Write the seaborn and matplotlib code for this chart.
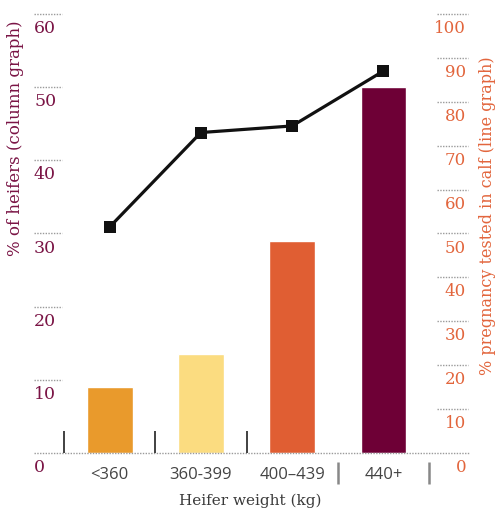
import numpy as np
import matplotlib
matplotlib.use("Agg")
import matplotlib.pyplot as plt
import matplotlib.transforms as mtransforms
import seaborn as sns

# Data
weight_classes = ["<360", "360-399", "400–439", "440+"]
heifer_share = [9, 13.5, 29, 50]            # % of heifers (columns)
pregnancy_rate = [51.5, 73, 74.5, 87]       # % pregnancy tested in calf (line)
left_ticks = [0, 10, 20, 30, 40, 50, 60]
right_ticks = [0, 10, 20, 30, 40, 50, 60, 70, 80, 90, 100]

bar_colors = ["#E99A2C", "#FBDC80", "#E05E33", "#6E0036"]
maroon = "#7A1445"
orange = "#E2653C"
dot_grey = "#9A9A9A"

sns.set_style("white")
plt.rcParams["font.family"] = ["DejaVu Serif"]

W, H = 496, 511
fig = plt.figure(figsize=(W / 100, H / 100), dpi=100)
ax = fig.add_axes([34 / W, 58 / H, 436 / W, 439 / H])

sns.barplot(x=weight_classes, y=heifer_share, hue=weight_classes,
            palette=bar_colors, saturation=1, width=0.5, legend=False, ax=ax)

ax2 = ax.twinx()
sns.lineplot(x=np.arange(len(pregnancy_rate)), y=pregnancy_rate, ax=ax2,
             color="#111111", lw=2.3, marker="s", markersize=8,
             markeredgewidth=0)

ax.set_xlim(-0.83, 3.95)
ax.set_ylim(0, 60)
ax2.set_ylim(0, 100)

for a in (ax, ax2):
    for s in a.spines.values():
        s.set_visible(False)
    a.set_xticks([])
    a.set_yticks([])
    a.set_xlabel("")
    a.set_ylabel("")
    a.grid(False)
    a.patch.set_alpha(0)

dot = (0, (1, 1))
lt = mtransforms.blended_transform_factory(ax.transAxes, ax.transData)
rt = mtransforms.blended_transform_factory(ax2.transAxes, ax2.transData)

# left axis: short dotted ticks with labels just below
for v in left_ticks:
    if v > 0:
        ax.plot([0, 0.064], [v, v], transform=lt, color=dot_grey, lw=1,
                ls=dot, clip_on=False)
    ax.annotate(str(v), xy=(0, v), xycoords=lt, xytext=(0, -13.7),
                textcoords="offset points", ha="left", va="baseline",
                color=maroon, fontsize=12.5)

# right axis
for v in right_ticks:
    if v > 0:
        ax2.plot([0.924, 0.995], [v, v], transform=rt, color=dot_grey, lw=1,
                 ls=dot, clip_on=False)
    ax2.annotate(str(v), xy=(0.991, v), xycoords=rt, xytext=(0, -13.7),
                 textcoords="offset points", ha="right", va="baseline",
                 color=orange, fontsize=12)

# dotted baseline
ax.plot([0, 1], [0, 0], transform=lt, color=dot_grey, lw=1, ls=dot,
        clip_on=False)

# category separators
bounds = np.arange(len(weight_classes) + 1) - 0.5
ax.vlines(bounds[:3], 0, 3.0, color="#333333", lw=1.3)
ax.vlines(bounds[3:], -1.25, -4.25, color="#888888", lw=1.8, clip_on=False)

# category labels
xt = mtransforms.blended_transform_factory(ax.transData, ax.transAxes)
for i, lab in enumerate(weight_classes):
    ax.annotate(lab, xy=(i, 0), xycoords=xt, xytext=(0, -18.7),
                textcoords="offset points", ha="center", va="baseline",
                color="#444444", fontsize=12, family=["Open Sans", "DejaVu Sans"])

fig.text(250 / W, 1 - 494 / H, "Heifer weight (kg)", ha="center", va="top",
         color="#3a3a3a", fontsize=11)
fig.text(16 / W, 1 - 138 / H, "% of heifers (column graph)", rotation=90,
         ha="center", va="center", color=maroon, fontsize=12)
fig.text(487 / W, 1 - 216 / H, "% pregnancy tested in calf (line graph)",
         rotation=90, ha="center", va="center", color=orange, fontsize=11.5)

fig.savefig("out.png", dpi=100, facecolor="white")
